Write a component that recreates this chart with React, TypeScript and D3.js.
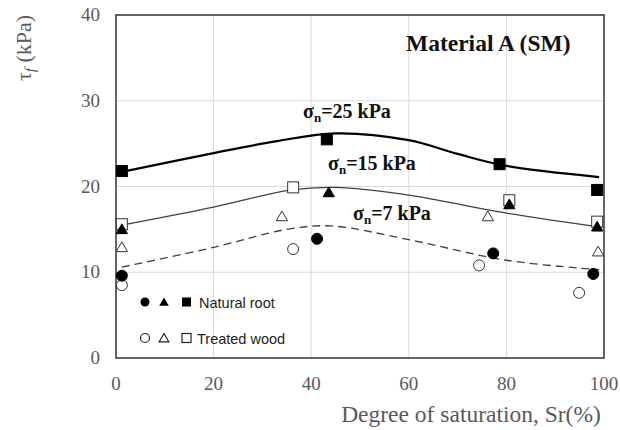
import * as d3 from "d3";

// Degree of saturation Sr (%) and shear strength tau_f (kPa)
const natSqS = [1.2, 43.2, 78.6, 98.6];
const natSqV = [21.8, 25.5, 22.6, 19.6];
const natTriS = [1.2, 43.6, 80.6, 98.6];
const natTriV = [15.0, 19.3, 17.9, 15.3];
const natCirS = [1.2, 41.2, 77.3, 97.8];
const natCirV = [9.6, 13.9, 12.2, 9.8];

const trSqS = [1.2, 36.3, 80.6, 98.6];
const trSqV = [15.6, 19.9, 18.4, 15.9];
const trTriS = [1.2, 34.0, 76.2, 98.8];
const trTriV = [12.9, 16.5, 16.5, 12.4];
const trCirS = [1.2, 36.3, 74.4, 94.9];
const trCirV = [8.5, 12.7, 10.8, 7.6];

// fitted curves (knots)
const fit25S = [1.2, 20, 33, 45, 60, 70, 80, 99];
const fit25V = [21.7, 23.9, 25.3, 26.2, 25.4, 23.8, 22.4, 21.1];
const fit15S = [1.2, 20, 36, 45, 60, 80, 99];
const fit15V = [15.5, 17.6, 19.6, 19.9, 19.0, 16.9, 15.3];
const fit7S = [1.2, 20, 35, 44, 60, 80, 99];
const fit7V = [10.6, 12.9, 15.0, 15.4, 13.8, 11.4, 10.3];

const xTicks = [0, 20, 40, 60, 80, 100];
const yTicks = [0, 10, 20, 30, 40];

const width = 620;
const height = 430;
const left = 116;
const right = 604;
const top = 15;
const bottom = 358;

const zip = (s: number[], v: number[]) => s.map((d, i) => [d, v[i]] as [number, number]);

export default function App() {
  const x = d3.scaleLinear([0, 100], [left, right]);
  const y = d3.scaleLinear([0, 40], [bottom, top]);

  const line = d3
    .line<[number, number]>()
    .x((d) => x(d[0]))
    .y((d) => y(d[1]))
    .curve(d3.curveCatmullRom.alpha(0.5));

  const tri = d3.symbol(d3.symbolTriangle, 55)();
  const triSmall = d3.symbol(d3.symbolTriangle, 40)();
  const serif = "'Liberation Serif', 'Times New Roman', serif";
  const sans = "'Liberation Sans', Arial, sans-serif";
  const grey = "#595959";
  const sq = 11;

  const squares = (pts: [number, number][], filled: boolean) =>
    pts.map((d, i) => (
      <rect
        key={i}
        x={x(d[0]) - sq / 2}
        y={y(d[1]) - sq / 2}
        width={sq}
        height={sq}
        fill={filled ? "#000" : "#fff"}
        stroke={filled ? "#000" : "#333"}
        strokeWidth={1}
      />
    ));
  const triangles = (pts: [number, number][], filled: boolean) =>
    pts.map((d, i) => (
      <path
        key={i}
        d={tri!}
        transform={`translate(${x(d[0])},${y(d[1]) + 1})`}
        fill={filled ? "#000" : "#fff"}
        stroke={filled ? "#000" : "#333"}
        strokeWidth={1}
      />
    ));
  const circles = (pts: [number, number][], filled: boolean) =>
    pts.map((d, i) => (
      <circle
        key={i}
        cx={x(d[0])}
        cy={y(d[1])}
        r={5.5}
        fill={filled ? "#000" : "#fff"}
        stroke={filled ? "#000" : "#333"}
        strokeWidth={1}
      />
    ));

  const sigmaLabel = (lx: number, ly: number, txt: string) => (
    <text x={lx} y={ly} fontFamily={serif} fontWeight="bold" fontSize={20} fill="#111">
      σ
      <tspan fontSize={13} dy={4}>n</tspan>
      <tspan dy={-4}>{txt}</tspan>
    </text>
  );

  return (
    <svg
      width={width}
      height={height}
      viewBox={`0 0 ${width} ${height}`}
      style={{ position: "absolute", left: 0, top: 0, background: "#fff" }}
    >
      {/* grid */}
      {xTicks.slice(1, -1).map((t) => (
        <line key={"gx" + t} x1={x(t)} x2={x(t)} y1={top} y2={bottom} stroke="#d9d9d9" />
      ))}
      {yTicks.slice(1, -1).map((t) => (
        <line key={"gy" + t} x1={left} x2={right} y1={y(t)} y2={y(t)} stroke="#d9d9d9" />
      ))}

      {/* frame */}
      <rect x={left} y={top} width={right - left} height={bottom - top} fill="none" stroke="#333" strokeWidth={1.5} />

      {/* tick labels */}
      {yTicks.map((t) => (
        <text key={"ty" + t} x={left - 16} y={y(t) + 6} textAnchor="end" fontFamily={serif} fontSize={19} fill={grey}>
          {t}
        </text>
      ))}
      {xTicks.map((t) => (
        <text key={"tx" + t} x={x(t)} y={390} textAnchor="middle" fontFamily={serif} fontSize={19} fill={grey}>
          {t}
        </text>
      ))}

      {/* axis titles */}
      <text x={471} y={422} textAnchor="middle" fontFamily={serif} fontSize={23.5} fill={grey}>
        Degree of saturation, Sr(%)
      </text>
      <text transform="translate(31,48) rotate(-90)" textAnchor="middle" fontFamily={serif} fontSize={22} fill={grey}>
        τ<tspan fontSize={15} fontStyle="italic" dy={4}>f</tspan>
        <tspan dy={-4}> (kPa)</tspan>
      </text>

      {/* fitted curves */}
      <path d={line(zip(fit25S, fit25V))!} fill="none" stroke="#000" strokeWidth={2.2} />
      <path d={line(zip(fit15S, fit15V))!} fill="none" stroke="#404040" strokeWidth={1.3} />
      <path d={line(zip(fit7S, fit7V))!} fill="none" stroke="#404040" strokeWidth={1.3} strokeDasharray="8,5" />

      {/* data points */}
      {circles(zip(trCirS, trCirV), false)}
      {triangles(zip(trTriS, trTriV), false)}
      {squares(zip(trSqS, trSqV), false)}
      {circles(zip(natCirS, natCirV), true)}
      {triangles(zip(natTriS, natTriV), true)}
      {squares(zip(natSqS, natSqV), true)}

      {/* annotations */}
      <text x={406} y={51} fontFamily={serif} fontWeight="bold" fontSize={23.5} fill="#111">
        Material A (SM)
      </text>
      {sigmaLabel(303, 118, "=25 kPa")}
      {sigmaLabel(328, 170, "=15 kPa")}
      {sigmaLabel(353, 220, "=7 kPa")}

      {/* legend */}
      <g fontFamily={sans} fontSize={14.5} fill="#222">
        <circle cx={145} cy={302} r={4.5} fill="#000" />
        <path d={triSmall!} transform="translate(164,303)" fill="#000" />
        <rect x={182} y={297.5} width={9} height={9} fill="#000" />
        <text x={199} y={307.5}>Natural root</text>
        <circle cx={145} cy={338} r={4.5} fill="#fff" stroke="#222" strokeWidth={1.2} />
        <path d={triSmall!} transform="translate(164,339)" fill="#fff" stroke="#222" strokeWidth={1.2} />
        <rect x={182} y={333.5} width={9} height={9} fill="#fff" stroke="#222" strokeWidth={1.2} />
        <text x={197} y={343.5}>Treated wood</text>
      </g>
    </svg>
  );
}
